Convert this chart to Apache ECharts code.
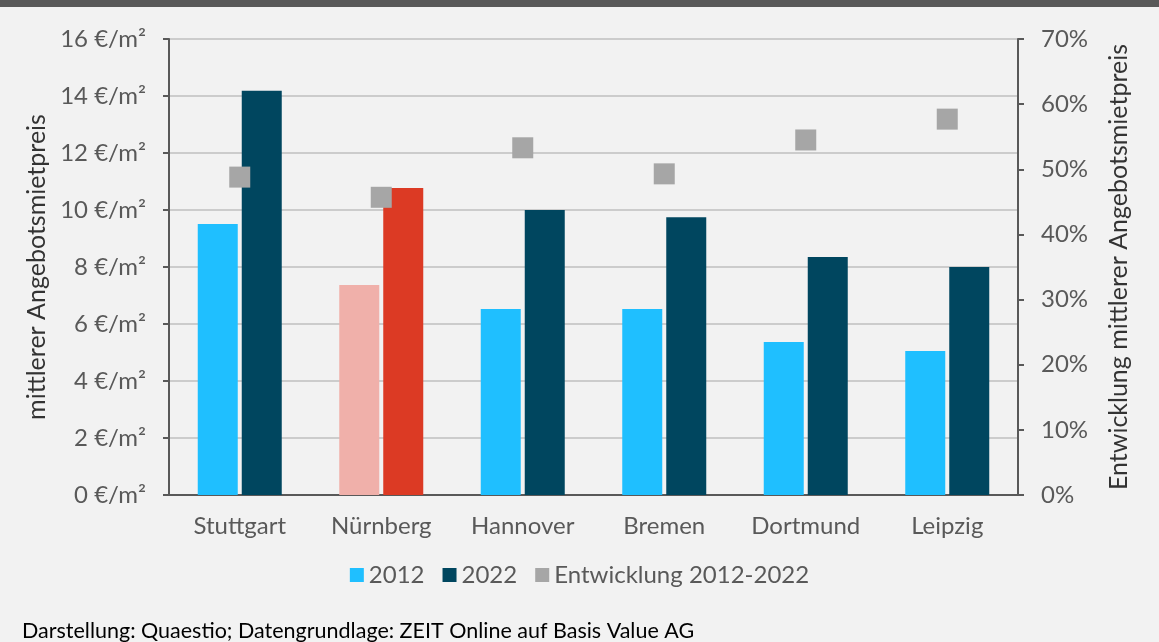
<!DOCTYPE html>
<html>
<head>
<meta charset="utf-8">
<script src="https://cdn.jsdelivr.net/npm/echarts@6/dist/echarts.min.js"></script>
<style>
  html, body { margin: 0; padding: 0; background: #f2f2f2; }
  #chart { width: 1159px; height: 642px; }
</style>
</head>
<body>
<div id="chart"></div>
<script>
const cities = ['Stuttgart', 'Nürnberg', 'Hannover', 'Bremen', 'Dortmund', 'Leipzig'];
const rent2012 = [9.51, 7.37, 6.53, 6.53, 5.37, 5.05];
const rent2022 = [14.18, 10.77, 10.0, 9.75, 8.35, 8.0];
const growth = [48.8, 45.7, 53.3, 49.3, 54.5, 57.7];
const rentTicks = [0, 2, 4, 6, 8, 10, 12, 14, 16];
const growthTicks = [0, 10, 20, 30, 40, 50, 60, 70];

// Nürnberg wird farblich hervorgehoben
const highlight = 'Nürnberg';
const c2012 = '#1fbfff', c2022 = '#00465f';
const h2012 = '#f0b0aa', h2022 = '#dc3a24';

const font = 'Lato, "Open Sans", sans-serif';
const grey = '#595959';

const chart = echarts.init(document.getElementById('chart'));

const option = {
  backgroundColor: '#f2f2f2',
  animation: false,
  textStyle: { fontFamily: font },
  graphic: [
    { type: 'rect', left: 0, top: 0, shape: { width: 1159, height: 7 }, style: { fill: '#595959' } },
    {
      type: 'text', left: 22, top: 620,
      style: { text: 'Darstellung: Quaestio; Datengrundlage: ZEIT Online auf Basis Value AG', fill: '#000', font: '21.5px ' + font }
    }
  ],
  grid: { left: 169, right: 141, top: 39, bottom: 147 },
  legend: {
    bottom: 50, left: 'center',
    itemWidth: 14, itemHeight: 14, itemGap: 18,
    textStyle: { color: grey, fontSize: 24, fontFamily: font },
    data: [
      { name: '2012', icon: 'rect', itemStyle: { color: c2012 } },
      { name: '2022', icon: 'rect', itemStyle: { color: c2022 } },
      { name: 'Entwicklung 2012-2022', icon: 'rect', itemStyle: { color: '#a6a6a6' } }
    ]
  },
  xAxis: {
    type: 'category',
    data: cities,
    axisLine: { lineStyle: { color: grey, width: 2 } },
    axisTick: { show: false },
    axisLabel: { color: grey, fontSize: 24, margin: 19, interval: 0 }
  },
  yAxis: [
    {
      type: 'value', min: rentTicks[0], max: rentTicks[rentTicks.length - 1], interval: 2,
      name: 'mittlerer Angebotsmietpreis', nameLocation: 'middle', nameGap: 114, nameRotate: 90,
      nameTextStyle: { color: '#333', fontSize: 25 },
      axisLine: { show: true, lineStyle: { color: grey, width: 2 } },
      axisTick: { show: true, length: 6, lineStyle: { color: grey, width: 2 } },
      axisLabel: { color: grey, fontSize: 24, margin: 23, formatter: '{value} €/m²' },
      splitLine: { lineStyle: { color: '#cccccc', width: 2 } }
    },
    {
      type: 'value', min: growthTicks[0], max: growthTicks[growthTicks.length - 1], interval: 10,
      name: 'Entwicklung mittlerer Angebotsmietpreis', nameLocation: 'middle', nameGap: 88, nameRotate: 90,
      nameTextStyle: { color: '#333', fontSize: 25 },
      axisLine: { show: true, lineStyle: { color: grey, width: 2 } },
      axisTick: { show: true, length: 6, lineStyle: { color: grey, width: 2 } },
      axisLabel: { color: grey, fontSize: 24, margin: 23, formatter: '{value}%' },
      splitLine: { show: false }
    }
  ],
  series: [
    {
      name: '2012', type: 'bar', barWidth: 40, barGap: '10%',
      itemStyle: { color: c2012 },
      data: rent2012.map((v, i) => cities[i] === highlight ? { value: v, itemStyle: { color: h2012 } } : v)
    },
    {
      name: '2022', type: 'bar', barWidth: 40, barGap: '10%',
      itemStyle: { color: c2022 },
      data: rent2022.map((v, i) => cities[i] === highlight ? { value: v, itemStyle: { color: h2022 } } : v)
    },
    {
      name: 'Entwicklung 2012-2022', type: 'scatter', yAxisIndex: 1,
      symbol: 'rect', symbolSize: 21,
      itemStyle: { color: '#a6a6a6', opacity: 1 },
      z: 5,
      data: growth
    }
  ]
};

chart.setOption(option);
</script>
</body>
</html>
